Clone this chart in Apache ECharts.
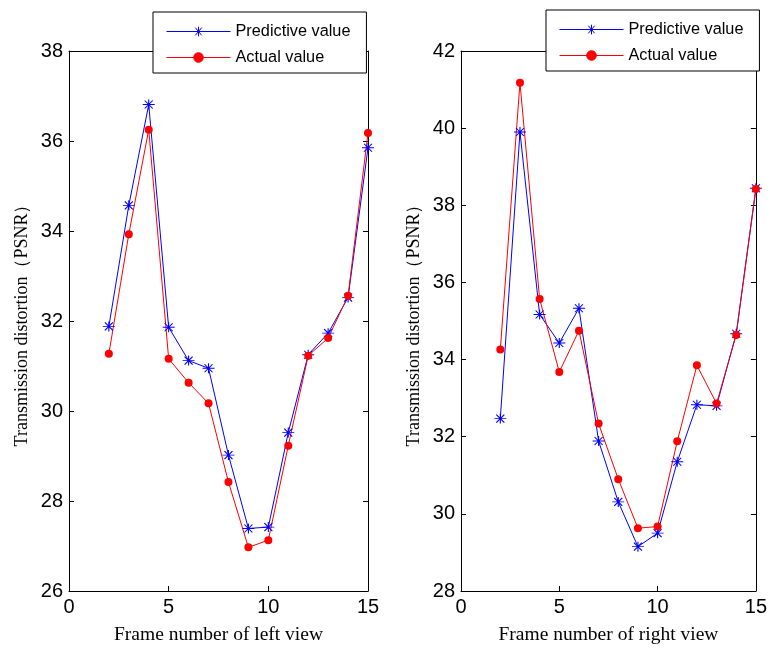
<!DOCTYPE html>
<html>
<head>
<meta charset="utf-8">
<script src="https://cdn.jsdelivr.net/npm/echarts@6/dist/echarts.min.js"></script>
<style>
  html, body { margin: 0; padding: 0; background: #fff; }
  #chart { width: 770px; height: 650px; }
</style>
</head>
<body>
<div id="chart"></div>
<script>
// Frame indices shared by both views
const frames = [2, 3, 4, 5, 6, 7, 8, 9, 10, 11, 12, 13, 14, 15];

// Left view PSNR
const leftPredictive = [31.88, 34.57, 36.81, 31.86, 31.12, 30.95, 29.02, 27.39, 27.42, 29.52, 31.25, 31.73, 32.52, 35.85];
const leftActual     = [31.27, 33.93, 36.25, 31.16, 30.63, 30.17, 28.42, 26.97, 27.13, 29.23, 31.23, 31.62, 32.56, 36.18];

// Right view PSNR
const rightPredictive = [32.47, 39.90, 35.17, 34.43, 35.33, 31.89, 30.31, 29.15, 29.50, 31.35, 32.83, 32.80, 34.67, 38.44];
const rightActual     = [34.26, 41.18, 35.57, 33.68, 34.75, 32.34, 30.90, 29.63, 29.67, 31.88, 33.85, 32.86, 34.64, 38.42];

// Tick values
const xTicks = [0, 5, 10, 15];
const leftYTicks = [26, 28, 30, 32, 34, 36, 38];
const rightYTicks = [28, 30, 32, 34, 36, 38, 40, 42];

const seriesNames = ['Predictive value', 'Actual value'];
const seriesColors = ['#0000ff', '#ff0000'];
const xTitles = ['Frame number of left view', 'Frame number of right view'];
const yTitle = 'Transmission distortion\uFF08PSNR\uFF09';

const SANS = '"Liberation Sans", Arial, sans-serif';
const SERIF = '"Liberation Serif", "Times New Roman", serif';
const STAR = 'path://M-6 0L6 0M0 -5L0 5M-4 -4L4 4M-4 4L4 -4';

function range(ticks) {
  return { min: ticks[0], max: ticks[ticks.length - 1], interval: ticks[1] - ticks[0] };
}

const grids = [
  { left: 69, top: 51, width: 299, height: 542 },
  { left: 461, top: 51, width: 298, height: 542 }
];
const yTickSets = [leftYTicks, rightYTicks];

const xAxes = [], yAxes = [], series = [];
const tickStyle = { show: true, inside: true, length: 5, lineStyle: { color: '#000', width: 1 } };
const lineStyleAxis = { show: true, onZero: false, lineStyle: { color: '#000', width: 1 } };

grids.forEach((g, i) => {
  const xr = range(xTicks);
  const yr = range(yTickSets[i]);
  // bottom axis with labels
  xAxes.push({
    type: 'value', gridIndex: i, position: 'bottom', ...xr,
    axisLine: lineStyleAxis, axisTick: tickStyle, splitLine: { show: false },
    axisLabel: { color: '#000', fontFamily: SANS, fontSize: 20, margin: 6 },
    name: xTitles[i], nameLocation: 'middle', nameGap: 34,
    nameTextStyle: { color: '#000', fontFamily: SERIF, fontSize: 19.5 }
  });
  // top mirror axis, ticks only
  xAxes.push({
    type: 'value', gridIndex: i, position: 'top', ...xr,
    axisLine: lineStyleAxis, axisTick: tickStyle, splitLine: { show: false },
    axisLabel: { show: false }
  });
  // left axis with labels
  yAxes.push({
    type: 'value', gridIndex: i, position: 'left', ...yr,
    axisLine: lineStyleAxis, axisTick: tickStyle, splitLine: { show: false },
    axisLabel: { color: '#000', fontFamily: SANS, fontSize: 20, margin: 6 },
    name: yTitle, nameLocation: 'middle', nameGap: 38, nameRotate: 90,
    nameTextStyle: { color: '#000', fontFamily: SERIF, fontSize: 18 }
  });
  // right mirror axis, ticks only
  yAxes.push({
    type: 'value', gridIndex: i, position: 'right', ...yr,
    axisLine: lineStyleAxis, axisTick: tickStyle, splitLine: { show: false },
    axisLabel: { show: false }
  });
});

function pairs(vals) { return frames.map((f, k) => [f, vals[k]]); }

const panelData = [[leftPredictive, leftActual], [rightPredictive, rightActual]];
panelData.forEach((pd, i) => {
  series.push({
    name: seriesNames[0], type: 'line', xAxisIndex: i * 2, yAxisIndex: i * 2,
    data: pairs(pd[0]), symbol: STAR, symbolSize: [12, 10], showSymbol: true,
    clip: false, silent: true,
    lineStyle: { color: seriesColors[0], width: 1 },
    itemStyle: { color: seriesColors[0], borderColor: seriesColors[0], borderWidth: 1 },
    emphasis: { disabled: true }
  });
  series.push({
    name: seriesNames[1], type: 'line', xAxisIndex: i * 2, yAxisIndex: i * 2,
    data: pairs(pd[1]), symbol: 'circle', symbolSize: 8, showSymbol: true,
    clip: false, silent: true,
    lineStyle: { color: seriesColors[1], width: 1 },
    itemStyle: { color: seriesColors[1], borderColor: seriesColors[1], borderWidth: 0 },
    emphasis: { disabled: true }
  });
});

function legendAt(left, top) {
  return {
    data: seriesNames.map((n, k) => ({
      name: n,
      lineStyle: { color: seriesColors[k], width: 1 },
      itemStyle: { color: seriesColors[k], borderColor: seriesColors[k], borderWidth: 1 }
    })),
    orient: 'vertical', left: left, top: top,
    backgroundColor: '#fff', borderColor: '#000', borderWidth: 1, borderRadius: 0,
    padding: [11, 16, 7, 13], itemGap: 9, itemWidth: 64, itemHeight: 12,
    selectedMode: false, z: 10,
    textStyle: { color: '#000', fontFamily: SANS, fontSize: 16.3, lineHeight: 17 }
  };
}

const chart = echarts.init(document.getElementById('chart'), null, { renderer: 'canvas' });
chart.setOption({
  animation: false,
  backgroundColor: '#fff',
  grid: grids.map(g => ({ ...g, show: false })),
  xAxis: xAxes,
  yAxis: yAxes,
  legend: [legendAt(153, 12), legendAt(546, 10)],
  series: series
});
</script>
</body>
</html>
